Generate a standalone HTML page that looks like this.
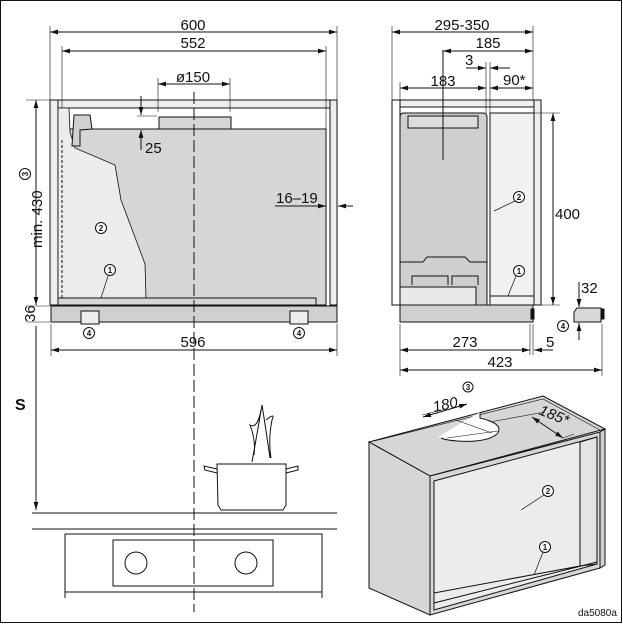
<!DOCTYPE html>
<html><head><meta charset="utf-8"><style>
html,body{margin:0;padding:0;background:#fff}
svg{display:block}
text{font-family:"Liberation Sans",sans-serif;fill:#111}
</style></head><body>
<svg width="623" height="624" viewBox="0 0 623 624" xmlns="http://www.w3.org/2000/svg">
<defs>
<marker id="a" viewBox="0 0 10 6" refX="10" refY="3" markerWidth="8" markerHeight="5" orient="auto-start-reverse" markerUnits="userSpaceOnUse"><path d="M0,0L10,3L0,6z" fill="#111"/></marker>
</defs>
<rect x="0.5" y="0.5" width="621" height="622" fill="#fff" stroke="#111"/>
<g stroke="#111" stroke-width="1" fill="none">
<!-- FRONT VIEW -->
<rect x="50" y="100" width="8" height="205" fill="#eee"/>
<rect x="330" y="100" width="7" height="205" fill="#eee"/>
<rect x="58" y="100" width="272" height="8" fill="#eee"/>
<rect x="159" y="117" width="72" height="12" fill="#d6d6d6"/>
<path d="M82,129 L326,129 L326,305 L58,305 L58,129Z" fill="#d6d6d6"/>
<path d="M69,108 L70,132 L75,148 L115,165 L121,200 L145,264 L146,298 L58,298 L58,108Z" fill="#ececec" stroke-width="0.8"/>
<path d="M74,115 L90,115 L92,129 L80,130 L80,146 L72,146Z" fill="#d0d0d0"/>
<path d="M62,140 L62,298" stroke-dasharray="3,2"/>
<path d="M58,298 L316,298 L316,305"/>
<rect x="51" y="306" width="286" height="16" fill="#d0d0d0"/>
<rect x="81" y="311" width="18" height="13" fill="#eee"/>
<rect x="290" y="311" width="18" height="13" fill="#eee"/>
<!-- dims front -->
<line x1="50" y1="32" x2="337" y2="32" marker-start="url(#a)" marker-end="url(#a)"/>
<line x1="50" y1="26" x2="50" y2="100" stroke-width="0.6"/>
<line x1="337" y1="26" x2="337" y2="100" stroke-width="0.6"/>
<line x1="62" y1="51" x2="326" y2="51" marker-start="url(#a)" marker-end="url(#a)"/>
<line x1="62" y1="46" x2="62" y2="108" stroke-width="0.6"/>
<line x1="326" y1="46" x2="326" y2="129" stroke-width="0.6"/>
<line x1="158" y1="84" x2="230" y2="84" marker-start="url(#a)" marker-end="url(#a)"/>
<line x1="158" y1="78" x2="158" y2="112" stroke-width="0.6"/>
<line x1="230" y1="78" x2="230" y2="112" stroke-width="0.6"/>
<line x1="26" y1="100" x2="50" y2="100" stroke-width="0.6"/>
<line x1="36" y1="100" x2="36" y2="305" marker-start="url(#a)" marker-end="url(#a)"/>
<line x1="26" y1="306" x2="50" y2="306" stroke-width="0.6"/>
<line x1="26" y1="322" x2="50" y2="322" stroke-width="0.6"/>
<line x1="36" y1="326" x2="36" y2="510" marker-end="url(#a)"/>
<line x1="141" y1="96" x2="141" y2="115" marker-end="url(#a)"/>
<line x1="141" y1="150" x2="141" y2="130" marker-end="url(#a)"/>
<line x1="137" y1="116" x2="157" y2="116" stroke-width="0.6"/>
<line x1="275" y1="206" x2="326" y2="206" marker-end="url(#a)"/>
<line x1="353" y1="206" x2="338" y2="206" marker-end="url(#a)"/>
<line x1="51" y1="350" x2="337" y2="350" marker-start="url(#a)" marker-end="url(#a)"/>
<line x1="51" y1="324" x2="51" y2="356" stroke-width="0.6"/>
<line x1="337" y1="324" x2="337" y2="356" stroke-width="0.6"/>
<line x1="194" y1="92" x2="194" y2="612" stroke-dasharray="12,4"/>
<circle cx="110" cy="270" r="5.5" fill="#fff"/><circle cx="101" cy="228" r="5.5" fill="#fff"/>
<circle cx="89" cy="333" r="5.5" fill="#fff"/><circle cx="299" cy="333" r="5.5" fill="#fff"/>
<circle cx="25" cy="174" r="5.5" fill="#fff"/>
<line x1="108" y1="276" x2="101" y2="298" stroke-width="0.7"/>
<!-- lower -->
<line x1="32" y1="513" x2="337" y2="513"/>
<line x1="32" y1="529" x2="337" y2="529"/>
<path d="M65,598 L65,534 L322,534 L322,598 M65,592 L322,592"/>
<rect x="113" y="540" width="160" height="46"/>
<circle cx="136" cy="563" r="11"/><circle cx="246" cy="563" r="11"/>
<path d="M217,464 L286,464 L286,505 L283,510 L221,510 L218,505Z" fill="#fff"/>
<path d="M217,469 L204,466 L205,470 L217,473 M286,469 L298,466 L298,470 L286,473"/>
<path d="M252,462 Q256,440 262,405 Q258,430 250,425 Q256,440 254,455 M262,405 Q266,430 270,458 M266,420 Q276,412 272,420 Q268,440 271,458"/>
<!-- SIDE VIEW -->
<rect x="392" y="100" width="143" height="7" fill="#eee"/>
<rect x="392" y="100" width="8" height="205" fill="#fff"/>
<rect x="534" y="100" width="7" height="205" fill="#eee"/>
<path d="M400,117 Q400,113 404,113 L483,113 Q487,113 487,117 L487,305 L400,305Z" fill="#cfcfcf"/>
<rect x="408" y="116" width="70" height="12" fill="#ddd"/>
<rect x="490" y="113" width="44" height="192" fill="#f1f1f1"/>
<path d="M400,262 L423,262 L427,257 L465,257 L470,262 L487,262"/>
<rect x="400" y="287" width="76" height="18" fill="#e8e8e8"/>
<path d="M412,285 L412,276 L448,276 L448,285 M452,285 L452,276 L478,276 L478,285"/>
<line x1="490" y1="296" x2="534" y2="296"/>
<rect x="400" y="305" width="133" height="17" fill="#d0d0d0"/>
<path d="M574,312 L577,308 L601,308 L601,322 L574,322Z" fill="#d8d8d8"/>
<rect x="531" y="309" width="3" height="10" fill="#111"/>
<rect x="601" y="309" width="3" height="10" fill="#111"/>
<line x1="443" y1="50" x2="443" y2="160"/>
<line x1="392" y1="32" x2="533" y2="32" marker-start="url(#a)" marker-end="url(#a)"/>
<line x1="392" y1="26" x2="392" y2="100" stroke-width="0.6"/>
<line x1="533" y1="26" x2="533" y2="100" stroke-width="0.6"/>
<line x1="443" y1="51" x2="533" y2="51" marker-start="url(#a)" marker-end="url(#a)"/>
<line x1="400" y1="88" x2="486" y2="88" marker-start="url(#a)" marker-end="url(#a)"/>
<line x1="400" y1="82" x2="400" y2="113" stroke-width="0.6"/>
<line x1="486" y1="62" x2="486" y2="113" stroke-width="0.6"/>
<line x1="490" y1="62" x2="490" y2="113" stroke-width="0.6"/>
<line x1="466" y1="68" x2="486" y2="68" marker-end="url(#a)"/>
<line x1="510" y1="68" x2="490" y2="68" marker-end="url(#a)"/>
<line x1="490" y1="88" x2="533" y2="88" marker-start="url(#a)" marker-end="url(#a)"/>
<line x1="533" y1="113" x2="560" y2="113" stroke-width="0.6"/>
<line x1="553" y1="113" x2="553" y2="305" marker-start="url(#a)" marker-end="url(#a)"/>
<line x1="533" y1="305" x2="560" y2="305" stroke-width="0.6"/>
<line x1="579" y1="282" x2="579" y2="307" marker-end="url(#a)"/>
<line x1="579" y1="340" x2="579" y2="323" marker-end="url(#a)"/>
<line x1="400" y1="324" x2="400" y2="376" stroke-width="0.6"/>
<line x1="530" y1="324" x2="530" y2="355" stroke-width="0.6"/>
<line x1="533" y1="324" x2="533" y2="355" stroke-width="0.6"/>
<line x1="602" y1="324" x2="602" y2="376" stroke-width="0.6"/>
<line x1="400" y1="350" x2="530" y2="350" marker-start="url(#a)" marker-end="url(#a)"/>
<line x1="553" y1="350" x2="534" y2="350" marker-end="url(#a)"/>
<line x1="400" y1="370" x2="602" y2="370" marker-start="url(#a)" marker-end="url(#a)"/>
<circle cx="519" cy="197" r="5.5" fill="#fff"/><line x1="515" y1="201" x2="494" y2="211" stroke-width="0.7"/>
<circle cx="519" cy="271" r="5.5" fill="#fff"/><line x1="516" y1="276" x2="508" y2="296" stroke-width="0.7"/>
<circle cx="563" cy="326" r="5.5" fill="#fff"/>
<!-- ISO BOX -->
<path d="M369,442 L543,396 L605,429 L430,476Z" fill="#d6d6d6"/>
<path d="M374,441 L543,399 L600,430" stroke-width="0.6"/>
<path d="M369,442 L430,476 L430,615 L369,588Z" fill="#d6d6d6"/>
<path d="M430,476 L600,432 L600,568 L430,615Z" fill="#d6d6d6"/>
<path d="M600,432 L605,429 L605,565 L600,568Z" fill="#d0d0d0"/>
<path d="M434,481 L597,437 L597,564 L434,610Z" fill="#ececec"/>
<path d="M580,442 L597,437 L597,564 L580,566Z" fill="#e4e4e4"/>
<path d="M434,593 L580,566 M434,603 L597,562"/>
<path d="M480,412 L480,417 Q505,424 497,434 Q486,443 457,441 Q445,440 438,437 L480,412Z" fill="#fff" stroke="none"/>
<path d="M480,412 L480,418 Q505,424 497,434 Q486,443 457,441 Q445,440 441,438"/>
<path d="M422,415 L446,409 M456,420 L492,433 M447,438 L498,431" stroke-width="0.6"/>
<path d="M490,422 L545,412 M563,438 L574,434" stroke-width="0.6"/>
<line x1="423" y1="417" x2="467" y2="404" marker-start="url(#a)" marker-end="url(#a)"/>
<line x1="532" y1="417" x2="563" y2="438" marker-start="url(#a)" marker-end="url(#a)"/>
<circle cx="548" cy="491" r="5.5" fill="#fff"/><line x1="544" y1="495" x2="521" y2="510" stroke-width="0.7"/>
<circle cx="545" cy="547" r="5.5" fill="#fff"/><line x1="543" y1="552" x2="534" y2="575" stroke-width="0.7"/>
<circle cx="468" cy="387" r="5" fill="#fff"/>
</g>
<g font-size="15">
<text x="193" y="30" text-anchor="middle">600</text>
<text x="193" y="48" text-anchor="middle">552</text>
<text x="193" y="82" text-anchor="middle">ø150</text>
<text x="145" y="153">25</text>
<text x="276" y="203">16–19</text>
<text x="193" y="347" text-anchor="middle">596</text>
<text transform="translate(42,248) rotate(-90)">min. 430</text>
<text transform="translate(35,322) rotate(-90)">36</text>
<text x="15" y="410" font-weight="bold" font-size="16">S</text>
<text x="462" y="30" text-anchor="middle">295-350</text>
<text x="488" y="48" text-anchor="middle">185</text>
<text x="465" y="65">3</text>
<text x="443" y="86" text-anchor="middle">183</text>
<text x="503" y="85">90*</text>
<text x="555" y="219">400</text>
<text x="581" y="293">32</text>
<text x="465" y="347" text-anchor="middle">273</text>
<text x="546" y="347">5</text>
<text x="500" y="367" text-anchor="middle">423</text>
<text transform="translate(434,412) rotate(-12)" font-style="italic">180</text>
<text transform="translate(538,414) rotate(22)" font-style="italic">185*</text>
</g>
<g font-size="8" text-anchor="middle" font-weight="bold">
<text x="110" y="273">1</text><text x="101" y="231">2</text>
<text x="89" y="336">4</text><text x="299" y="336">4</text>
<text transform="translate(28,174) rotate(-90)">3</text>
<text x="519" y="200">2</text><text x="519" y="274">1</text><text x="563" y="329">4</text>
<text x="548" y="494">2</text><text x="545" y="550">1</text><text x="468" y="390">3</text>
</g>
<text x="578" y="616" font-size="10">da5080a</text>
</svg>
</body></html>
